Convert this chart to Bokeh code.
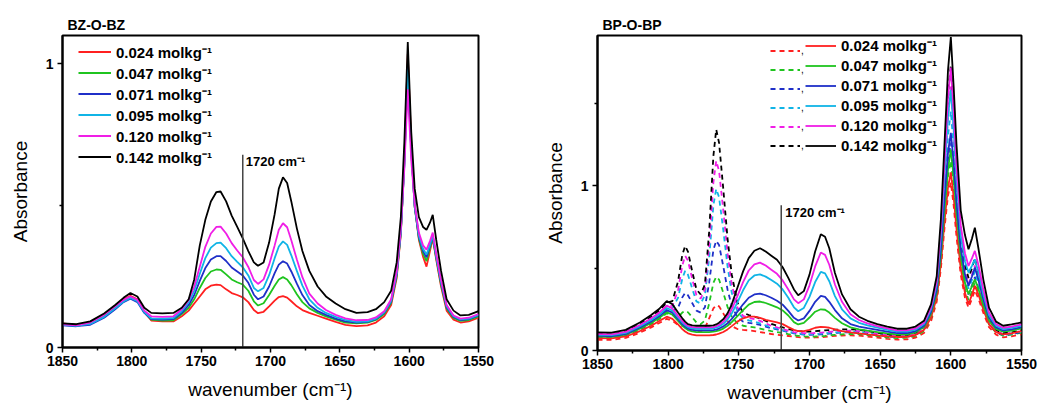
from bokeh.plotting import figure
from bokeh.layouts import row
from bokeh.models import Range1d, FixedTicker, Legend, LegendItem, Label
from bokeh.embed import file_html
from bokeh.resources import INLINE

FONT = "Liberation Sans"

# ---------------- data ----------------
conc_labels = ["0.024 molkg⁻¹", "0.047 molkg⁻¹", "0.071 molkg⁻¹",
               "0.095 molkg⁻¹", "0.120 molkg⁻¹", "0.142 molkg⁻¹"]
colors = ["#ff2020", "#1fc41f", "#1f2fc8", "#10b4e6", "#f01ee6", "#000000"]

x_ticks = [1850, 1800, 1750, 1700, 1650, 1600, 1550]
x_minor = [1825, 1775, 1725, 1675, 1625, 1575]
marker_wn = 1720

# BZ-O-BZ (left)
wn_bz = [1850, 1840, 1830, 1820, 1812, 1806, 1801, 1796, 1791, 1786,
         1778, 1770, 1764, 1759, 1755, 1751, 1747, 1743, 1739, 1736,
         1732, 1728, 1724, 1720, 1716, 1712, 1709, 1705, 1701, 1697,
         1694, 1691, 1688, 1685, 1681, 1677, 1672, 1666, 1660, 1653,
         1646, 1638, 1630, 1624, 1618, 1613, 1609, 1606, 1603.5, 1601,
         1598.5, 1596, 1593, 1590, 1587.5, 1585, 1583, 1580.5, 1577, 1573,
         1568, 1563, 1557, 1550]
bz_024 = [.085, .080, .088, .115, .145, .170, .182, .170, .125, .095,
          .092, .092, .110, .130, .155, .180, .205, .218, .222, .220,
          .205, .192, .185, .177, .160, .132, .121, .126, .145, .165,
          .178, .181, .176, .163, .145, .132, .122, .112, .102, .090,
          .080, .075, .078, .088, .110, .150, .245, .400, .660, 1.035,
          .720, .500, .380, .320, .285, .340, .385, .310, .215, .130,
          .098, .088, .092, .105]
bz_047 = [.083, .078, .086, .112, .140, .165, .178, .166, .125, .098,
          .095, .096, .118, .140, .170, .210, .245, .268, .275, .274,
          .258, .240, .230, .222, .200, .163, .148, .156, .185, .218,
          .240, .248, .240, .220, .188, .160, .138, .122, .110, .098,
          .088, .085, .088, .097, .118, .158, .252, .405, .650, 1.000,
          .700, .495, .385, .330, .305, .350, .388, .315, .222, .138,
          .104, .094, .097, .110]
bz_071 = [.078, .075, .080, .105, .135, .160, .172, .160, .122, .100,
          .098, .100, .122, .150, .185, .235, .280, .310, .322, .322,
          .305, .282, .268, .254, .228, .186, .170, .180, .215, .262,
          .292, .304, .296, .268, .225, .185, .150, .128, .115, .102,
          .092, .088, .090, .100, .122, .162, .258, .408, .645, .990,
          .695, .495, .390, .340, .318, .358, .392, .320, .228, .142,
          .108, .097, .100, .113]
bz_095 = [.080, .076, .083, .108, .138, .162, .175, .163, .125, .103,
          .102, .104, .128, .160, .200, .260, .315, .352, .368, .370,
          .350, .322, .302, .283, .254, .210, .198, .210, .255, .315,
          .356, .374, .362, .325, .270, .218, .170, .140, .122, .108,
          .097, .090, .092, .102, .124, .165, .262, .412, .640, .980,
          .690, .500, .395, .348, .328, .362, .395, .322, .232, .146,
          .110, .099, .102, .115]
bz_120 = [.082, .078, .088, .115, .145, .168, .180, .168, .130, .110,
          .108, .110, .135, .168, .215, .285, .355, .402, .425, .426,
          .402, .368, .342, .318, .284, .238, .224, .240, .292, .360,
          .415, .438, .424, .378, .310, .248, .190, .155, .132, .115,
          .103, .096, .097, .106, .128, .170, .268, .418, .630, .910,
          .660, .505, .405, .360, .345, .375, .405, .330, .238, .150,
          .113, .102, .105, .118]
bz_142 = [.085, .082, .092, .120, .150, .175, .192, .180, .140, .122,
          .120, .122, .140, .170, .240, .360, .450, .515, .548, .550,
          .515, .465, .425, .385, .340, .300, .288, .300, .370, .470,
          .560, .600, .580, .515, .420, .340, .270, .215, .180, .155,
          .135, .122, .125, .135, .160, .200, .300, .460, .720, 1.077,
          .760, .560, .460, .425, .415, .440, .468, .380, .270, .170,
          .130, .113, .115, .128]

# BP-O-BP (right)
wn_bp = [1850, 1840, 1830, 1820, 1812, 1806, 1801, 1797, 1793, 1790,
         1788, 1786, 1783, 1780, 1777, 1774, 1771, 1768, 1766, 1764,
         1761, 1758, 1755, 1751, 1747, 1743, 1739, 1735, 1731, 1727,
         1723, 1719, 1715, 1711, 1708, 1704, 1700, 1696, 1692, 1689,
         1686, 1682, 1677, 1671, 1665, 1659, 1652, 1645, 1638, 1631,
         1625, 1619, 1614, 1610, 1607, 1604.5, 1602, 1600, 1598, 1596,
         1593, 1590, 1587.5, 1585, 1583, 1580.5, 1577, 1573, 1568, 1563,
         1557, 1550]
bp_024 = [.075, .073, .085, .118, .150, .180, .205, .192, .158, .130,
          .115, .104, .096, .092, .092, .092, .092, .094, .097, .102,
          .112, .128, .148, .175, .195, .205, .206, .198, .186, .178,
          .170, .160, .142, .125, .118, .118, .125, .138, .143, .142,
          .138, .128, .118, .110, .104, .098, .092, .086, .082, .083,
          .094, .125, .200, .320, .530, .780, .990, 1.080, .930, .740,
          .500, .350, .280, .340, .392, .340, .250, .160, .112, .098,
          .104, .118]
bp_047 = [.085, .083, .096, .132, .167, .200, .232, .218, .180, .150,
          .136, .124, .116, .112, .112, .112, .112, .114, .117, .122,
          .133, .150, .172, .208, .245, .278, .294, .297, .288, .275,
          .262, .243, .212, .172, .158, .168, .200, .235, .250, .247,
          .230, .198, .165, .140, .128, .120, .112, .104, .097, .098,
          .110, .142, .222, .350, .580, .850, 1.100, 1.220, 1.050, .830,
          .570, .410, .341, .390, .432, .375, .275, .182, .130, .114,
          .120, .134]
bp_071 = [.090, .088, .101, .140, .176, .210, .245, .230, .190, .160,
          .145, .133, .125, .122, .122, .122, .122, .124, .127, .133,
          .146, .165, .192, .235, .280, .320, .340, .345, .335, .320,
          .302, .278, .240, .198, .182, .195, .240, .295, .331, .325,
          .295, .245, .195, .160, .145, .135, .125, .115, .106, .106,
          .118, .150, .235, .370, .620, .920, 1.200, 1.320, 1.140, .900,
          .620, .460, .392, .450, .503, .430, .310, .200, .140, .122,
          .128, .142]
bp_095 = [.095, .093, .107, .147, .185, .220, .258, .242, .200, .170,
          .154, .142, .134, .132, .132, .132, .132, .134, .138, .145,
          .162, .188, .225, .292, .365, .425, .455, .462, .448, .428,
          .405, .370, .320, .262, .238, .258, .325, .415, .477, .468,
          .420, .330, .250, .195, .168, .152, .138, .125, .114, .114,
          .126, .160, .250, .400, .700, 1.060, 1.420, 1.580, 1.340, 1.040,
          .700, .540, .473, .515, .553, .475, .340, .215, .150, .130,
          .137, .150]
bp_120 = [.100, .098, .113, .155, .195, .232, .272, .255, .210, .180,
          .162, .150, .142, .140, .140, .140, .140, .142, .147, .155,
          .175, .205, .250, .330, .415, .485, .522, .533, .515, .490,
          .465, .425, .370, .310, .287, .310, .395, .510, .594, .580,
          .520, .400, .295, .220, .185, .165, .148, .134, .122, .122,
          .134, .168, .262, .420, .740, 1.140, 1.540, 1.715, 1.450, 1.120,
          .760, .590, .513, .560, .604, .520, .370, .230, .160, .138,
          .145, .158]
bp_142 = [.110, .108, .125, .170, .215, .255, .300, .280, .230, .195,
          .175, .160, .152, .150, .150, .150, .150, .152, .158, .168,
          .190, .225, .280, .380, .480, .560, .605, .620, .600, .575,
          .550, .505, .440, .370, .335, .360, .460, .600, .705, .690,
          .620, .470, .340, .250, .205, .180, .160, .145, .132, .132,
          .145, .180, .280, .450, .800, 1.250, 1.700, 1.900, 1.600, 1.250,
          .850, .700, .614, .680, .745, .620, .430, .260, .175, .150,
          .158, .170]
# dashed series (right)
bpd_024 = [.065, .064, .076, .108, .140, .168, .192, .180, .155, .150,
           .152, .148, .132, .118, .115, .135, .195, .255, .275, .268,
           .225, .180, .148, .130, .125, .122, .118, .112, .106, .100,
           .096, .092, .088, .084, .081, .079, .078, .079, .081, .083,
           .086, .089, .091, .092, .090, .085, .078, .071, .066, .068,
           .078, .106, .178, .295, .500, .740, .940, 1.020, .880, .690,
           .460, .320, .260, .315, .365, .315, .228, .142, .096, .080,
           .086, .098]
bpd_047 = [.080, .078, .090, .125, .160, .193, .225, .215, .202, .230,
           .240, .232, .202, .170, .160, .182, .285, .410, .446, .430,
           .350, .265, .205, .165, .150, .145, .140, .133, .125, .118,
           .112, .106, .099, .093, .089, .086, .084, .085, .087, .089,
           .092, .095, .098, .100, .099, .094, .087, .080, .075, .078,
           .088, .118, .196, .320, .560, .830, 1.060, 1.150, .990, .770,
           .520, .375, .305, .360, .410, .355, .255, .158, .108, .090,
           .096, .108]
bpd_071 = [.084, .082, .095, .132, .168, .202, .238, .236, .260, .322,
           .350, .335, .288, .242, .230, .262, .410, .610, .665, .640,
           .510, .370, .270, .200, .175, .168, .162, .155, .145, .135,
           .128, .120, .112, .104, .100, .097, .095, .096, .098, .100,
           .103, .106, .109, .110, .108, .102, .094, .086, .080, .083,
           .094, .126, .208, .340, .600, .900, 1.160, 1.260, 1.080, .840,
           .560, .410, .340, .395, .445, .385, .270, .165, .112, .094,
           .100, .112]
bpd_095 = [.088, .086, .100, .138, .176, .212, .250, .258, .320, .435,
           .483, .460, .375, .298, .285, .335, .560, .880, .980, .930,
           .730, .510, .350, .235, .195, .183, .175, .165, .152, .140,
           .132, .124, .115, .107, .103, .100, .099, .100, .102, .104,
           .107, .110, .113, .114, .112, .106, .097, .089, .083, .086,
           .098, .132, .218, .360, .640, .980, 1.300, 1.450, 1.230, .930,
           .610, .450, .375, .430, .480, .410, .285, .172, .116, .097,
           .103, .115]
bpd_120 = [.092, .090, .105, .145, .185, .222, .262, .272, .365, .515,
           .574, .545, .435, .335, .315, .370, .640, 1.020, 1.150, 1.090,
           .850, .590, .400, .260, .210, .198, .190, .180, .165, .150,
           .140, .130, .120, .112, .108, .105, .104, .106, .108, .110,
           .113, .116, .119, .120, .118, .112, .102, .093, .087, .090,
           .102, .138, .228, .380, .680, 1.050, 1.420, 1.600, 1.340, 1.000,
           .650, .480, .405, .460, .515, .440, .300, .180, .120, .100,
           .106, .118]
bpd_142 = [.100, .098, .115, .160, .205, .245, .290, .300, .420, .580,
           .634, .600, .480, .370, .340, .400, .720, 1.180, 1.340, 1.260,
           .980, .680, .460, .290, .230, .215, .205, .195, .180, .162,
           .150, .140, .130, .122, .118, .115, .115, .118, .120, .122,
           .124, .126, .128, .128, .125, .118, .108, .098, .092, .095,
           .108, .145, .240, .400, .720, 1.150, 1.550, 1.730, 1.450, 1.080,
           .700, .520, .440, .500, .560, .470, .320, .190, .125, .105,
           .110, .122]

bz_series = [bz_024, bz_047, bz_071, bz_095, bz_120, bz_142]
bp_series = [bp_024, bp_047, bp_071, bp_095, bp_120, bp_142]
bpd_series = [bpd_024, bpd_047, bpd_071, bpd_095, bpd_120, bpd_142]


def make_fig(title, ymax, y_minor, fw, fh, left, right, top, bottom):
    p = figure(output_backend="svg", toolbar_location=None,
               frame_width=fw, frame_height=fh,
               x_range=Range1d(1850, 1550), y_range=Range1d(0, ymax),
               min_border_left=left, min_border_right=right,
               min_border_top=top, min_border_bottom=bottom)
    p.grid.visible = False
    p.background_fill_color = "white"
    p.border_fill_color = "white"
    p.outline_line_color = "black"
    p.outline_line_width = 2
    p.title.text = title
    p.title.align = "left"
    p.title.offset = 5
    p.title.standoff = 5
    p.title.text_font = FONT
    p.title.text_font_size = "14px"
    p.title.text_font_style = "bold"
    p.title.text_color = "black"
    p.xaxis.ticker = FixedTicker(ticks=x_ticks, minor_ticks=x_minor)
    p.yaxis.ticker = FixedTicker(ticks=[0, 1], minor_ticks=y_minor)
    for ax in (p.xaxis[0], p.yaxis[0]):
        ax.axis_line_width = 2
        ax.axis_line_color = "black"
        ax.major_tick_out = 5
        ax.major_tick_in = 0
        ax.minor_tick_out = 3
        ax.minor_tick_in = 0
        ax.major_tick_line_width = 1.5
        ax.minor_tick_line_width = 1.5
        ax.major_label_text_font = FONT
        ax.major_label_text_font_size = "14px"
        ax.major_label_text_font_style = "bold"
        ax.major_label_text_color = "black"
        ax.axis_label_text_font = FONT
        ax.axis_label_text_font_size = "19px"
        ax.axis_label_text_font_style = "normal"
        ax.axis_label_text_color = "black"
    p.xaxis.axis_label = "wavenumber (cm⁻¹)"
    p.yaxis.axis_label = "Absorbance"
    p.xaxis.major_label_standoff = 3
    p.xaxis.axis_label_standoff = 10
    p.yaxis.major_label_standoff = 4
    p.yaxis.axis_label_standoff = 12
    return p


# ---------- left ----------
p1 = make_fig("BZ-O-BZ", 1.1, [0.5], 416, 312, 62, 42, 35, 58)
items1 = []
for vals, col, lab in zip(bz_series, colors, conc_labels):
    r = p1.line(wn_bz, vals, line_color=col, line_width=1.8)
    items1.append(LegendItem(label=lab, renderers=[r]))
p1.line([marker_wn, marker_wn], [0, 0.68], line_color="#444444", line_width=1.5)
p1.add_layout(Label(x=marker_wn, y=0.655, x_offset=3, text="1720 cm⁻¹",
                    text_baseline="middle", text_font=FONT, text_color="black",
                    text_font_size="13px", text_font_style="bold"))
leg1 = Legend(items=items1, location=(16, 180), glyph_width=33, glyph_height=21,
              label_height=21, spacing=0, padding=0, margin=0,
              border_line_alpha=0, background_fill_alpha=0,
              label_text_font=FONT, label_text_font_size="15px",
              label_text_font_style="bold", label_text_color="black",
              label_standoff=5)
p1.add_layout(leg1)

# ---------- right ----------
p2 = make_fig("BP-O-BP", 1.91, [0.5, 1.5], 424, 315, 77, 17, 33, 57)
dash_items, solid_items = [], []
for vals, col in zip(bpd_series, colors):
    r = p2.line(wn_bp, vals, line_color=col, line_width=1.8, line_dash="5 4")
    dash_items.append(LegendItem(label=",", renderers=[r]))
for vals, col, lab in zip(bp_series, colors, conc_labels):
    r = p2.line(wn_bp, vals, line_color=col, line_width=1.8)
    solid_items.append(LegendItem(label=lab, renderers=[r]))
p2.line([marker_wn, marker_wn], [0, 0.88], line_color="#444444", line_width=1.5)
p2.add_layout(Label(x=marker_wn, y=0.836, x_offset=4, text="1720 cm⁻¹",
                    text_baseline="middle", text_font=FONT, text_color="black",
                    text_font_size="13px", text_font_style="bold"))
leg2a = Legend(items=dash_items, location=(173, 195), glyph_width=30, glyph_height=19,
               label_height=19, label_width=4, spacing=0, padding=0, margin=0,
               border_line_alpha=0, background_fill_alpha=0,
               label_text_font=FONT, label_text_font_size="10px",
               label_text_color="black", label_standoff=1)
leg2b = Legend(items=solid_items, location=(208, 195), glyph_width=31, glyph_height=19,
               label_height=19, spacing=0, padding=0, margin=0,
               border_line_alpha=0, background_fill_alpha=0,
               label_text_font=FONT, label_text_font_size="15px",
               label_text_font_style="bold", label_text_color="black",
               label_standoff=5)
p2.add_layout(leg2a)
p2.add_layout(leg2b)

layout = row(p1, p2)
open("out.html", "w").write(file_html(layout, INLINE))
